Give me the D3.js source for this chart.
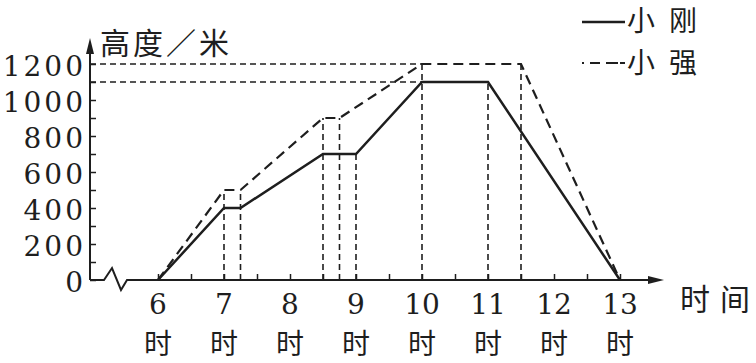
<!DOCTYPE html>
<html>
<head>
<meta charset="utf-8">
<script src="https://cdn.jsdelivr.net/npm/d3@7"></script>
<style>
  html, body { margin: 0; padding: 0; background: #fff; }
  svg { display: block; }
  .num { font-family: "DejaVu Serif", "Liberation Serif", serif; }
</style>
</head>
<body>
<div id="chart"></div>
<script>
// hour ticks on x axis
const hours = [6, 7, 8, 9, 10, 11, 12, 13];
const halfHours = d3.range(6, 13.01, 0.5);
const yTicks = [0, 200, 400, 600, 800, 1000, 1200];
const yMinor = d3.range(0, 1201, 100);

// 小刚 (solid)
const gangTime = [6, 7, 7.25, 8.5, 9, 10, 11, 13];
const gangHeight = [0, 400, 400, 700, 700, 1100, 1100, 0];
// 小强 (dashed)
const qiangTime = [6, 7, 7.25, 8.5, 8.75, 10, 11.5, 13];
const qiangHeight = [0, 500, 500, 900, 900, 1200, 1200, 0];

// dashed helper lines
const guideTime = [7, 7.25, 8.5, 8.75, 9, 10, 11, 11.5];
const guideHeight = [500, 500, 900, 900, 700, 1200, 1100, 1200];
const guideLevels = [1200, 1100];
const guideLevelEnd = 10;

const W = 756, H = 363;
const ink = "#1e1e1e";
const cjkFont = "'Noto Sans CJK SC', 'Noto Sans', sans-serif";

const svg = d3.select("#chart").append("svg")
  .attr("width", W).attr("height", H);

const x = d3.scaleLinear().domain([6, 13]).range([158, 620]);
const y = d3.scaleLinear().domain([0, 1200]).range([280, 64]);
const axisX = 90;

// guide lines
svg.append("g").selectAll("line")
  .data(guideTime.map((t, i) => [t, guideHeight[i]]))
  .join("line")
  .attr("x1", d => x(d[0])).attr("x2", d => x(d[0]))
  .attr("y1", y(0)).attr("y2", d => y(d[1]))
  .attr("stroke", ink).attr("stroke-width", 1.6)
  .attr("stroke-dasharray", "6,4");

svg.append("g").selectAll("line")
  .data(guideLevels)
  .join("line")
  .attr("x1", axisX).attr("x2", x(guideLevelEnd))
  .attr("y1", d => y(d)).attr("y2", d => y(d))
  .attr("stroke", ink).attr("stroke-width", 1.6)
  .attr("stroke-dasharray", "6,4");

// y axis with inner ticks
const yAxis = svg.append("g")
  .attr("transform", `translate(${axisX},0)`)
  .call(d3.axisLeft(y).tickValues(yMinor).tickSize(-6).tickPadding(4)
    .tickFormat(d => yTicks.includes(d) ? d : ""));
yAxis.select(".domain").remove();
yAxis.attr("font-family", null);
yAxis.selectAll(".tick line").attr("stroke", ink).attr("stroke-width", 1.5);
yAxis.selectAll(".tick text")
  .attr("class", "num")
  .attr("fill", ink)
  .style("font-size", "28px")
  .style("letter-spacing", "3px")
  .attr("dy", "0.4em");

// x axis with inner ticks
const xAxis = svg.append("g")
  .attr("transform", `translate(0,${y(0)})`)
  .call(d3.axisBottom(x).tickValues(halfHours).tickSize(-6).tickFormat(""));
xAxis.select(".domain").remove();
xAxis.selectAll(".tick line").attr("stroke", ink).attr("stroke-width", 1.5);

// axis lines, break mark and arrows
svg.append("path")
  .attr("d", `M${axisX},${y(0)} L${axisX},44`)
  .attr("stroke", ink).attr("stroke-width", 2).attr("fill", "none");
svg.append("path")
  .attr("d", `M${axisX - 4},54 L${axisX},38 L${axisX + 4},54 Z`)
  .attr("fill", ink);
svg.append("path")
  .attr("d", `M${axisX},280 L104,280 L112,268 L121,290 L127,280 L656,280`)
  .attr("stroke", ink).attr("stroke-width", 2).attr("fill", "none");
svg.append("path")
  .attr("d", "M648,276 L664,280 L648,284 Z")
  .attr("fill", ink);

// hour labels
svg.append("g").selectAll("text")
  .data(hours)
  .join("text")
  .attr("class", "num")
  .attr("x", d => x(d)).attr("y", 314)
  .attr("text-anchor", "middle")
  .attr("fill", ink)
  .style("font-size", "28px")
  .text(d => d);
svg.append("g").selectAll("text")
  .data(hours)
  .join("text")
  .attr("x", d => x(d)).attr("y", 354)
  .attr("text-anchor", "middle")
  .attr("fill", ink)
  .style("font-family", cjkFont).style("font-size", "28px")
  .text("时");

// series lines
const line = d3.line().x(d => x(d[0])).y(d => y(d[1]));
svg.append("path")
  .datum(qiangTime.map((t, i) => [t, qiangHeight[i]]))
  .attr("d", line)
  .attr("fill", "none").attr("stroke", ink).attr("stroke-width", 2.2)
  .attr("stroke-dasharray", "10,6");
svg.append("path")
  .datum(gangTime.map((t, i) => [t, gangHeight[i]]))
  .attr("d", line)
  .attr("fill", "none").attr("stroke", ink).attr("stroke-width", 2.5);

// spaced CJK text without trailing gap
function cjkText(chars, px, py, size, gap) {
  const t = svg.append("text")
    .attr("x", px).attr("y", py)
    .attr("fill", ink)
    .style("font-family", cjkFont).style("font-size", size + "px");
  chars.forEach((c, i) => {
    t.append("tspan").attr("dx", i === 0 ? 0 : gap).text(c);
  });
  return t;
}

// axis titles
cjkText(["高", "度", "／", "米"], 100, 54, 30, 3);
cjkText(["时", "间"], 680, 310, 30, 10);

// legend
svg.append("line")
  .attr("x1", 582).attr("x2", 625).attr("y1", 22).attr("y2", 22)
  .attr("stroke", ink).attr("stroke-width", 2.5);
cjkText(["小", "刚"], 627, 31, 28, 14);
svg.append("line")
  .attr("x1", 582).attr("x2", 625).attr("y1", 63).attr("y2", 63)
  .attr("stroke", ink).attr("stroke-width", 2.2)
  .attr("stroke-dasharray", "2,6,10,6,12");
cjkText(["小", "强"], 627, 73, 28, 14);
</script>
</body>
</html>
